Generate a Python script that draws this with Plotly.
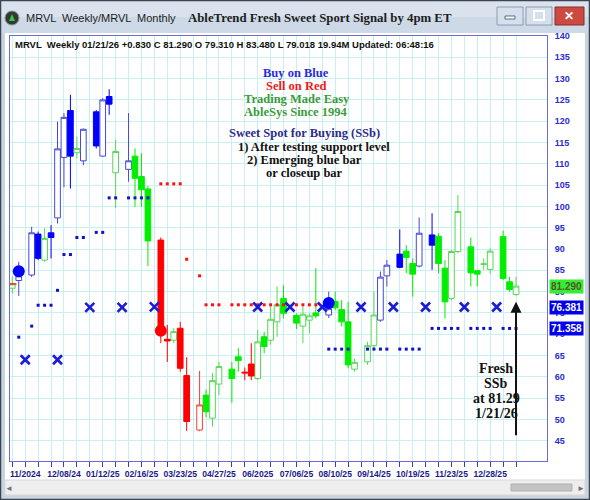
import plotly.graph_objects as go
import pandas as pd

W, H = 590, 500

# ---------------- data ----------------
week_start = pd.date_range("2024-10-20", "2026-01-18", freq="7D")   # weekly bars (week starting Sunday)
month_start = pd.date_range("2024-11-01", "2026-01-01", freq="MS")  # monthly signal columns

signal = ["G", "B", "B", "B", "G", "B", "B", "B", "B", "G",
          "B", "B", "B", "B", "G", "B", "G", "G", "G", "R",
          "R", "G", "R", "R", "R", "G", "G", "G", "G", "G",
          "R", "R", "G", "G", "G", "G", "G", "G", "G", "G",
          "G", "B", "G", "G", "G", "G", "G", "G", "B", "B",
          "B", "G", "G", "B", "B", "G", "G", "G", "G", "G",
          "G", "G", "G", "G", "G", "G"]
open_ = [80.8, 82.6, 83.9, 93.5, 87.4, 93.8, 97.3, 111.5, 122.5, 112.6,
         110.7, 122.2, 111.8, 125.8, 107.9, 108.7, 111.8, 107.0, 104.1, 92.1,
         68.8, 68.6, 71.4, 60.3, 47.5, 55.7, 50.3, 58.3, 61.8, 64.7,
         61.1, 63.0, 59.6, 69.4, 68.6, 72.9, 78.4, 74.4, 71.9, 73.3,
         75.0, 74.5, 77.7, 75.8, 72.9, 61.8, 63.5, 67.3, 73.3, 83.7,
         88.8, 89.5, 86.6, 86.0, 93.3, 93.0, 85.5, 78.4, 89.4, 90.5,
         84.9, 86.4, 85.2, 92.9, 82.3, 79.31]
high = [83.5, 87.0, 95.2, 94.1, 94.9, 95.6, 119.9, 121.9, 126.2, 116.4,
        118.3, 122.6, 125.4, 127.5, 115.7, 121.9, 113.6, 112.5, 104.8, 92.7,
        72.2, 71.4, 72.9, 64.6, 61.4, 57.0, 60.9, 63.5, 63.5, 66.7,
        62.2, 67.9, 71.0, 70.5, 76.5, 81.2, 81.5, 74.9, 76.5, 74.9,
        85.5, 80.0, 80.0, 78.0, 77.6, 64.3, 68.2, 80.0, 84.7, 87.4,
        94.6, 90.9, 87.8, 97.4, 98.4, 93.7, 87.4, 89.8, 102.7, 92.7,
        85.1, 87.8, 90.2, 94.3, 83.5, 83.48]
low = [79.6, 79.0, 83.4, 87.4, 87.0, 87.8, 96.0, 104.5, 104.2, 111.3,
       109.7, 113.6, 111.7, 121.5, 99.6, 105.8, 99.9, 99.9, 86.0, 67.9,
       63.5, 67.9, 61.2, 47.3, 47.2, 50.5, 48.3, 55.7, 53.9, 61.2,
       59.2, 59.2, 59.2, 65.5, 67.5, 69.4, 73.7, 71.2, 67.9, 70.2,
       73.7, 73.8, 75.7, 71.8, 62.0, 61.2, 62.8, 66.3, 72.9, 81.2,
       85.5, 84.3, 78.8, 85.7, 85.1, 84.3, 73.7, 78.0, 89.0, 81.2,
       81.2, 85.1, 84.1, 82.7, 80.0, 79.018]
close = [81.8, 83.7, 93.8, 87.8, 92.5, 92.7, 113.5, 120.9, 111.8, 113.6,
         118.1, 114.2, 125.0, 124.0, 112.9, 110.7, 106.6, 103.9, 91.9, 70.6,
         68.4, 70.6, 62.0, 49.5, 53.4, 51.8, 59.1, 62.4, 59.6, 63.8,
         60.9, 60.2, 68.2, 67.1, 73.5, 76.9, 74.9, 72.6, 74.7, 74.3,
         74.3, 76.0, 76.2, 72.9, 62.8, 63.4, 67.3, 74.5, 83.4, 86.2,
         85.7, 88.0, 84.1, 93.7, 90.9, 86.6, 77.6, 89.4, 98.8, 84.4,
         84.1, 86.5, 89.5, 83.1, 80.5, 81.29]

N = None
support = [N, 69.3, 71.9, 76.8, 76.8, 76.8, 80.3, 88.7, 88.7, 92.7,
           92.7, 93.9, 93.9, 102.0, 102.0, 102.0, 102.0, 102.0, 102.0, N,
           N, N, N, N, N, N, N, N, N, N,
           N, N, N, N, N, N, N, N, N, N,
           N, 66.5, 66.5, 66.5, 66.5, N, 66.5, 66.5, 66.5, 66.5,
           66.5, 66.5, 66.5, 66.5, 71.36, 71.36, 71.36, 71.36, 71.36, 71.36,
           71.36, 71.36, 71.36, 71.36, 71.36, 71.36]
resistance = [N, N, N, N, N, N, N, N, N, N,
              N, N, N, N, N, N, N, N, N, 105.3,
              105.3, 105.3, 105.3, 87.6, 83.7, 76.9, 76.9, 76.9, 76.9, 76.9,
              76.9, 76.9, 76.9, 76.9, 76.9, 76.9, 76.9, 76.9, 76.9, 76.9,
              76.9, N, N, N, N, N, N, N, N, N,
              N, N, N, N, N, N, N, N, N, N,
              N, N, N, N, N, N]
monthly_level = [64.0, 64.0, 76.3, 76.3, 76.4, N, N, 76.38, 76.38, 76.38,
                 76.38, 76.38, 76.38, 76.38, 76.38]

buy_dot_week = ["2024-10-27", "2025-08-03"]
buy_dot_val = [84.8, 77.3]
sell_dot_week = ["2025-03-02"]
sell_dot_val = [70.8]

label_dates = ["2024-11-01", "2024-12-08", "2025-01-12", "2025-02-16", "2025-03-23",
               "2025-04-27", "2025-06-01", "2025-07-06", "2025-08-10", "2025-09-14",
               "2025-10-19", "2025-11-23", "2025-12-28"]
y_ticks = list(range(40, 145, 5))

tag_values = [81.290, 76.381, 71.358]
tag_bg = ["#33ee33", "#0000ee", "#0000ee"]
tag_fg = ["#55552a", "#ffffff", "#ffffff"]

# ---------------- slots (weekly + month-start columns) ----------------
slots = sorted(set(week_start) | set(month_start))
slot_of = {d: i for i, d in enumerate(slots)}
xw = [slot_of[d] for d in week_start]
xm = [slot_of[d] for d in month_start]

PX0, SP = 12.3, 6.458          # pixel of first slot, pixels per slot
PL, PR, PT, PB = 10, 547, 36, 461
YMAX = 140.0
YMIN = YMAX - (PB - PT) / 4.26

NARROW = "Liberation Sans Narrow, Arial Narrow, Liberation Sans, Arial"
SERIF = "Liberation Serif, Times New Roman, serif"
SANS = "Liberation Sans, Arial, sans-serif"

fig = go.Figure()

colors = {"B": ("#0000ff", "#4848d8"), "G": ("#00ee00", "#55d855"), "R": ("#ff0000", "#ff3b3b")}
for sig in ["B", "G", "R"]:
    idx = [i for i, s in enumerate(signal) if s == sig]
    solid, hollow = colors[sig]
    fig.add_trace(go.Candlestick(
        x=[xw[i] for i in idx],
        open=[open_[i] for i in idx], high=[high[i] for i in idx],
        low=[low[i] for i in idx], close=[close[i] for i in idx],
        increasing=dict(line=dict(color=hollow, width=1), fillcolor="white"),
        decreasing=dict(line=dict(color=solid, width=1), fillcolor=solid),
        whiskerwidth=0, hoverinfo="skip", showlegend=False))

fig.add_trace(go.Scatter(x=xw, y=support, mode="markers",
                         marker=dict(symbol="square", size=3, color="#1010cc", line=dict(width=0)),
                         hoverinfo="skip", showlegend=False))
fig.add_trace(go.Scatter(x=xw, y=resistance, mode="markers",
                         marker=dict(symbol="square", size=3, color="#ff1010", line=dict(width=0)),
                         hoverinfo="skip", showlegend=False))
fig.add_trace(go.Scatter(x=xm, y=monthly_level, mode="markers",
                         marker=dict(symbol="x-thin", size=9, line=dict(width=2.6, color="#1c1cd8")),
                         hoverinfo="skip", showlegend=False))
fig.add_trace(go.Scatter(x=[xw[0]], y=[close[0]], mode="markers",
                         marker=dict(symbol="line-ew", size=6, line=dict(width=1.5, color="#ff2020")),
                         hoverinfo="skip", showlegend=False))
fig.add_trace(go.Scatter(x=[slot_of[pd.Timestamp(d)] for d in buy_dot_week], y=buy_dot_val, mode="markers",
                         marker=dict(symbol="circle", size=12, color="#0000ff", line=dict(width=0)),
                         hoverinfo="skip", showlegend=False))
fig.add_trace(go.Scatter(x=[slot_of[pd.Timestamp(d)] for d in sell_dot_week], y=sell_dot_val, mode="markers",
                         marker=dict(symbol="circle", size=12, color="#ff0000", line=dict(width=0)),
                         hoverinfo="skip", showlegend=False))

# ---------------- axes ----------------
label_slots = {slot_of[pd.Timestamp(d)]: d for d in label_dates}
tickv, tickt = [], []
for s in range(0, len(slots), 2):
    tickv.append(s)
    if s in label_slots:
        d = pd.Timestamp(label_slots[s])
        tickt.append(d.strftime("%m/%Y") if d.day == 1 else d.strftime("%m/%d/%y"))
    else:
        tickt.append("")

GRID = "#c6f0f4"
fig.update_xaxes(domain=[PL / W, PR / W],
                 range=[(PL - PX0) / SP, (PR - PX0) / SP],
                 tickmode="array", tickvals=tickv, ticktext=tickt, tickangle=0,
                 ticks="outside", ticklen=5, tickcolor="#3a3ac8", tickwidth=1,
                 tickfont=dict(family=NARROW, size=8.6, color="#1a1a8c", weight="bold"),
                 showgrid=True, gridcolor=GRID, gridwidth=1,
                 showline=True, linecolor="#6c6cd6", linewidth=1, mirror=True,
                 zeroline=False, rangeslider=dict(visible=False), fixedrange=True,
                 automargin=False)
fig.update_yaxes(domain=[1 - PB / H, 1 - PT / H], range=[YMIN, YMAX], side="right",
                 tickmode="array", tickvals=y_ticks,
                 tickfont=dict(family=NARROW, size=9, color="#2c2cd0", weight="bold"),
                 ticklabelstandoff=5,
                 showgrid=True, gridcolor=GRID, gridwidth=1,
                 showline=True, linecolor="#6c6cd6", linewidth=1, mirror=True,
                 zeroline=False, fixedrange=True, automargin=False)

# ---------------- window chrome ----------------
shapes = []
def rect(x0, y0, x1, y1, fill, line=None, lw=0, layer="below"):
    shapes.append(dict(type="rect", xref="paper", yref="paper",
                       x0=x0 / W, x1=x1 / W, y0=1 - y1 / H, y1=1 - y0 / H,
                       fillcolor=fill, line=dict(color=line or fill, width=lw), layer=layer))

rect(0, 0, 590, 33, "#d9e2ed")
rect(0, 17, 590, 33, "#cdd9e6")
rect(0, 33, 5, 500, "#c9d4e2")
rect(585, 33, 590, 500, "#c9d4e2")
rect(0, 495, 590, 500, "#c9d4e2")
rect(5, 480, 585, 495, "#eeeeee", "#d8d8d8", 1)
rect(511, 484, 572, 491, "#c3c3c3", "#b0b0b0", 1)
rect(0.5, 0.5, 589.5, 499.5, "rgba(0,0,0,0)", "#3c4452", 1.5, layer="above")
# title buttons
rect(497, 7, 523, 25, "#d6e0ec", "#8d9cb0", 1, layer="above")
rect(526, 7, 552, 25, "#d6e0ec", "#8d9cb0", 1, layer="above")
rect(555, 7, 584, 25, "#cc4a40", "#8a2e28", 1, layer="above")
rect(505, 16, 515, 19, "#ffffff", "#5a6a80", 1, layer="above")
rect(534, 11, 544, 20, "rgba(0,0,0,0)", "#ffffff", 2, layer="above")
# icon
shapes.append(dict(type="circle", xref="paper", yref="paper", x0=5 / W, x1=19 / W,
                   y0=1 - 25 / H, y1=1 - 11 / H, fillcolor="#2f3a33",
                   line=dict(color="#8a948e", width=1), layer="above"))
shapes.append(dict(type="path", xref="paper", yref="paper",
                   path=f"M {9/W} {1-21/H} L {12/W} {1-14/H} L {15/W} {1-21/H} Z",
                   fillcolor="#3fc24a", line=dict(width=0), layer="above"))

ann = []
def text(x, y, s, size, color, family=SANS, bold=False, anchor="center"):
    ann.append(dict(xref="paper", yref="paper", x=x / W, y=1 - y / H, text=s, showarrow=False,
                    xanchor=anchor, yanchor="middle",
                    font=dict(family=family, size=size, color=color, weight="bold" if bold else "normal")))

text(24, 18, "MRVL  Weekly/MRVL  Monthly", 11, "#1e1e1e", anchor="left")
text(186, 18, "AbleTrend Fresh Sweet Sport Signal by 4pm ET", 12.8, "#1e1e1e", SERIF, True, "left")
text(569, 16, "✕", 12, "#ffffff", SANS, True)
text(9, 488, "◄", 8, "#707070")
text(581, 488, "►", 8, "#707070")

text(13, 45, "MRVL  Weekly 01/21/26 +0.830 C 81.290 O 79.310 H 83.480 L 79.018 19.94M Updated: 06:48:16",
     9.5, "#111111", NARROW, True, "left")

text(296, 73, "Buy on Blue", 12.5, "#2a2ae0", SERIF, True)
text(296, 86, "Sell on Red", 12.5, "#ee1a1a", SERIF, True)
text(297, 99, "Trading Made Easy", 12.5, "#3b9b3b", SERIF, True)
text(296, 112, "AbleSys Since 1994", 12.5, "#3b9b3b", SERIF, True)
text(304, 133, "Sweet Spot for Buying (SSb)", 12.5, "#2c2c8c", SERIF, True)
text(314, 147, "1) After testing support level", 12.5, "#111111", SERIF, True)
text(245, 160, "2) Emerging blue bar", 12.5, "#111111", SERIF, True, "left")
text(304, 173, "or closeup bar", 12.5, "#111111", SERIF, True)

for i, s in enumerate(["Fresh", "SSb", "at 81.29", "1/21/26"]):
    text(496, 368 + 15 * i, s, 14, "#111111", SERIF, True)

# price tags on right axis
for v, bg, fg in zip(tag_values, tag_bg, tag_fg):
    ann.append(dict(xref="paper", yref="y", x=549 / W, y=v, text=f"{v:.3f}", showarrow=False,
                    xanchor="left", yanchor="middle", bgcolor=bg, borderpad=1,
                    font=dict(family=NARROW, size=10, color=fg, weight="bold")))

# arrow to the latest bar
ann.append(dict(xref="x", yref="y", x=xw[-1], y=low[-1] - 1.4, ax=0, ay=135, axref="pixel", ayref="pixel",
                text="", showarrow=True, arrowhead=2, arrowsize=1.1, arrowwidth=2, arrowcolor="#111111",
                standoff=0))

fig.update_layout(width=W, height=H, margin=dict(l=0, r=0, t=0, b=0, pad=0),
                  paper_bgcolor="#ffffff", plot_bgcolor="#ffffff",
                  boxgap=0.12, boxgroupgap=0, showlegend=False, shapes=shapes, annotations=ann,
                  hovermode=False)

fig.write_html("out.html", config={"displayModeBar": False},
               post_script="document.body.style.margin='0';document.body.style.overflow='hidden';")
